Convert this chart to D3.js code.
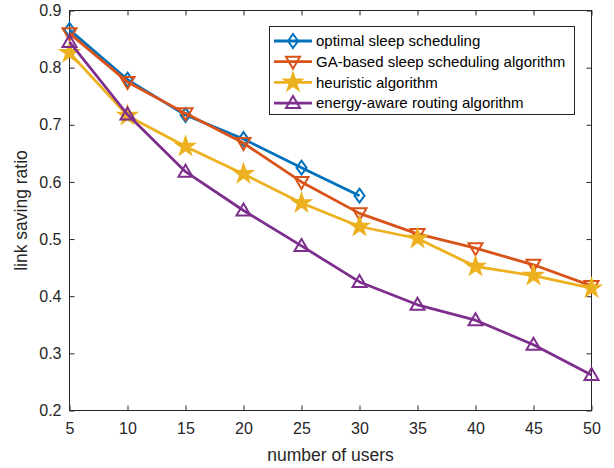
<!DOCTYPE html>
<html lang="en">
<head>
<meta charset="utf-8">
<script src="https://d3js.org/d3.v7.min.js"></script>
<style>
  body { margin: 0; background: #fff; }
  svg { font-family: "Liberation Sans", Arial, sans-serif; }
</style>
</head>
<body>
<svg width="614" height="468"></svg>
<script>
// data
var users = [5, 10, 15, 20, 25, 30, 35, 40, 45, 50];
var optimal   = [0.866, 0.779, 0.717, 0.675, 0.625, 0.576];
var gaBased   = [0.860, 0.775, 0.720, 0.668, 0.600, 0.545, 0.509, 0.484, 0.455, 0.418];
var heuristic = [0.826, 0.716, 0.662, 0.614, 0.563, 0.522, 0.501, 0.452, 0.436, 0.414];
var energy    = [0.845, 0.718, 0.618, 0.550, 0.488, 0.425, 0.385, 0.358, 0.315, 0.262];
var xTicks = [5, 10, 15, 20, 25, 30, 35, 40, 45, 50];
var yTicks = [0.2, 0.3, 0.4, 0.5, 0.6, 0.7, 0.8, 0.9];

var series = [
  { name: "optimal sleep scheduling", values: optimal, color: "#0072BD", marker: "diamond" },
  { name: "GA-based sleep scheduling algorithm", values: gaBased, color: "#D95319", marker: "tridown" },
  { name: "heuristic algorithm", values: heuristic, color: "#EDB120", marker: "star" },
  { name: "energy-aware routing algorithm", values: energy, color: "#7E2F8E", marker: "triup" }
];

var svg = d3.select("svg");
var pLeft = 69.5, pRight = 591.5, pTop = 10.5, pBottom = 410.5;

var x = d3.scaleLinear().domain([5, 50]).range([pLeft, pRight]);
var y = d3.scaleLinear().domain([0.2, 0.9]).range([pBottom, pTop]);

// axes box
svg.append("rect")
  .attr("x", pLeft).attr("y", pTop)
  .attr("width", pRight - pLeft).attr("height", pBottom - pTop)
  .attr("fill", "none").attr("stroke", "#262626").attr("stroke-width", 1);

// bottom / left axis with inward ticks
var xAxis = svg.append("g")
  .attr("transform", "translate(0," + pBottom + ")")
  .call(d3.axisBottom(x).tickValues(xTicks).tickSizeInner(-5).tickSizeOuter(0).tickPadding(12));
var yAxis = svg.append("g")
  .attr("transform", "translate(" + pLeft + ",0)")
  .call(d3.axisLeft(y).tickValues(yTicks).tickFormat(d3.format(".1f")).tickSizeInner(-5).tickSizeOuter(0).tickPadding(8));
// top / right ticks, no labels
svg.append("g")
  .attr("transform", "translate(0," + pTop + ")")
  .call(d3.axisTop(x).tickValues(xTicks).tickSizeInner(-5).tickSizeOuter(0).tickFormat(""));
svg.append("g")
  .attr("transform", "translate(" + pRight + ",0)")
  .call(d3.axisRight(y).tickValues(yTicks).tickSizeInner(-5).tickSizeOuter(0).tickFormat(""));

svg.selectAll(".domain").remove();
svg.selectAll(".tick line").attr("stroke", "#262626");
svg.selectAll(".tick text").attr("fill", "#262626").style("font-size", "16px");

// axis labels
svg.append("text")
  .attr("x", (pLeft + pRight) / 2).attr("y", 461)
  .attr("text-anchor", "middle")
  .style("font-size", "17.5px").attr("fill", "#262626")
  .text("number of users");
svg.append("text")
  .attr("transform", "translate(27," + ((pTop + pBottom) / 2) + ")rotate(-90)")
  .attr("text-anchor", "middle")
  .style("font-size", "17.5px").attr("fill", "#262626")
  .text("link saving ratio");

function markerPath(type) {
  if (type === "diamond") return "M0,-7L5,0L0,7L-5,0Z";
  if (type === "tridown") return "M-7,-5L7,-5L0,7Z";
  if (type === "triup") return "M0,-7L7,5L-7,5Z";
  return d3.symbol().type(d3.symbolStar).size(110)();
}

function drawMarker(g, type, color, cx, cy) {
  g.append("path")
    .attr("d", markerPath(type))
    .attr("transform", "translate(" + cx + "," + cy + ")")
    .attr("fill", type === "star" ? color : "none")
    .attr("stroke", color)
    .attr("stroke-width", type === "star" ? 1.5 : 2)
    .attr("stroke-linejoin", "miter");
}

var line = d3.line()
  .x(function (d, i) { return x(users[i]); })
  .y(function (d) { return y(d); });

series.forEach(function (s) {
  var g = svg.append("g");
  g.append("path")
    .datum(s.values)
    .attr("d", line)
    .attr("fill", "none")
    .attr("stroke", s.color)
    .attr("stroke-width", 2.8)
    .attr("stroke-linejoin", "round");
  s.values.forEach(function (v, i) {
    drawMarker(g, s.marker, s.color, x(users[i]), y(v));
  });
});

// legend
var lg = svg.append("g");
lg.append("rect")
  .attr("x", 269.5).attr("y", 26.5)
  .attr("width", 305).attr("height", 88)
  .attr("fill", "#fff").attr("stroke", "#262626").attr("stroke-width", 1);
series.forEach(function (s, i) {
  var ry = 41 + i * 20.7;
  lg.append("line")
    .attr("x1", 274).attr("x2", 312).attr("y1", ry).attr("y2", ry)
    .attr("stroke", s.color).attr("stroke-width", 2.8);
  drawMarker(lg, s.marker, s.color, 293, ry);
  lg.append("text")
    .attr("x", 316).attr("y", ry).attr("dy", "0.35em")
    .style("font-size", "15px").attr("fill", "#000")
    .text(s.name);
});
</script>
</body>
</html>
